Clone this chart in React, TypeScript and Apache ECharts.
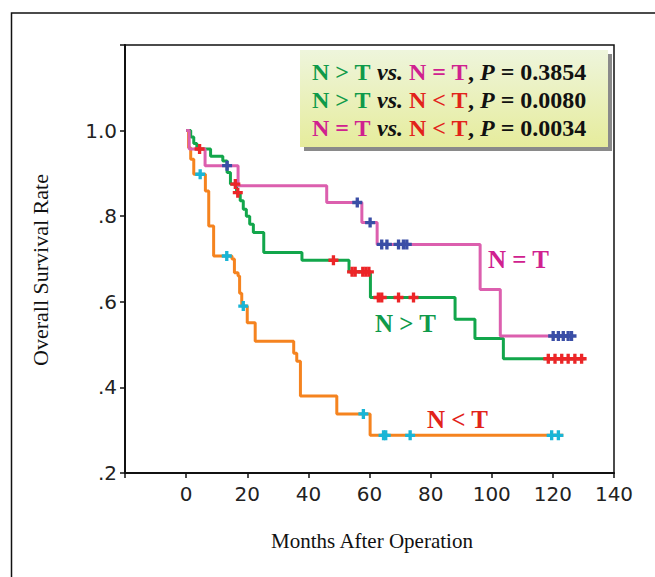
import React, { useEffect, useRef } from 'react';
import * as echarts from 'echarts';

// ---- Data ----
const xTickValues = [-20, 0, 20, 40, 60, 80, 100, 120, 140];
const yTickLabels = ['.2', '.4', '.6', '.8', '1.0'];

// N = T (pink line, blue censor marks)
const eqTimes = [0, 1, 6.2, 17, 46, 57.5, 62.5, 96.2, 102.8, 126.5];
const eqSurv = [1.0, 0.957, 0.918, 0.871, 0.832, 0.785, 0.734, 0.629, 0.52, 0.52];
const eqCensor = [13.4, 56, 60.2, 64, 65.7, 69.5, 71.1, 72.2, 120.1, 121.8, 123.4, 125, 126.1];

// N > T (green line, red censor marks)
const gtTimes = [0, 1.5, 2.5, 3.5, 8, 12, 13.4, 14.5, 16.5, 17.7, 18.7, 19.7, 20.8, 22, 25.4, 37.9, 53.3, 60.3, 88, 94.5, 103.8, 130.5];
const gtSurv = [1.0, 0.985, 0.97, 0.957, 0.94, 0.929, 0.902, 0.875, 0.855, 0.836, 0.816, 0.8, 0.781, 0.762, 0.715, 0.697, 0.67, 0.61, 0.559, 0.514, 0.467, 0.467];
const gtCensor = [4.4, 16.1, 16.9, 48.2, 54.3, 55.3, 57.8, 58.8, 59.8, 62.9, 64, 69.5, 74.4, 118.5, 120.7, 122.9, 125, 127.2, 129.4];

// N < T (orange line, cyan censor marks)
const ltTimes = [0, 0.8, 1.5, 2.5, 6.3, 7.4, 9, 15, 15.8, 17, 17.5, 18.2, 20, 22.6, 35.2, 36.2, 37.4, 49.3, 60.2, 123.4];
const ltSurv = [1.0, 0.96, 0.933, 0.898, 0.859, 0.777, 0.707, 0.7, 0.668, 0.66, 0.62, 0.59, 0.551, 0.508, 0.48, 0.461, 0.38, 0.338, 0.288, 0.288];
const ltCensor = [4.6, 13.3, 18.7, 58, 64.6, 65.3, 73.3, 119.6, 121.8];

const pValues = ['0.3854', '0.0080', '0.0034'];

// ---- helpers ----
const survAt = (times: number[], surv: number[], t: number) => {
  let v = surv[0];
  for (let i = 0; i < times.length; i++) {
    if (times[i] <= t) v = surv[i];
  }
  return v;
};
const pairs = (times: number[], surv: number[]) => times.map((t, i) => [t, surv[i]]);
const censorPts = (times: number[], surv: number[], c: number[]) => c.map((t) => [t, survAt(times, surv, t)]);

const PLUS = 'path://M3,0H6V3H9V6H6V9H3V6H0V3H3Z';

const C = {
  pinkLine: '#dc5fae',
  greenLine: '#12a64b',
  orangeLine: '#f5831f',
  blue: '#3a4ea6',
  red: '#ec2527',
  cyan: '#19b5d6',
  gText: '#0f9a4a',
  mText: '#d0218f',
  rText: '#e2231a',
};

const serif = '"Liberation Serif", "Times New Roman", serif';
const LF = 24;

export default function App() {
  const ref = useRef<HTMLDivElement>(null);
  useEffect(() => {
    document.body.style.margin = '0';
    const chart = echarts.init(ref.current!, null, { renderer: 'svg' });
    const lineSeries = (name: string, times: number[], surv: number[], color: string, z: number) => ({
      name,
      type: 'line',
      step: 'end',
      data: pairs(times, surv),
      showSymbol: false,
      symbol: 'none',
      lineStyle: { color, width: 3 },
      itemStyle: { color },
      z,
    });
    const censorSeries = (name: string, times: number[], surv: number[], c: number[], color: string) => ({
      name,
      type: 'scatter',
      data: censorPts(times, surv, c),
      symbol: PLUS,
      symbolSize: 10,
      itemStyle: { color, opacity: 1 },
      z: 10,
    });
    const rich = {
      g: { fill: C.gText, fontFamily: serif, fontWeight: 'bold', fontSize: LF },
      m: { fill: C.mText, fontFamily: serif, fontWeight: 'bold', fontSize: LF },
      r: { fill: C.rText, fontFamily: serif, fontWeight: 'bold', fontSize: LF },
      k: { fill: '#111', fontFamily: serif, fontWeight: 'bold', fontSize: LF },
      i: { fill: '#111', fontFamily: serif, fontWeight: 'bold', fontStyle: 'italic', fontSize: LF },
    };
    const legendLines = [
      `{g|N > T} {i|vs.} {m|N = T}{k|,} {i|P} {k|= ${pValues[0]}}`,
      `{g|N > T} {i|vs.} {r|N < T}{k|,} {i|P} {k|= ${pValues[1]}}`,
      `{m|N = T} {i|vs.} {r|N < T}{k|,} {i|P} {k|= ${pValues[2]}}`,
    ];
    chart.setOption({
      animation: false,
      backgroundColor: '#fff',
      grid: {
        left: 125,
        right: 41,
        top: 45,
        bottom: 104,
        show: true,
        borderColor: '#111',
        borderWidth: 1.5,
        backgroundColor: 'transparent',
      },
      xAxis: {
        type: 'value',
        min: xTickValues[0],
        max: xTickValues[xTickValues.length - 1],
        interval: 20,
        axisLine: { show: true, onZero: false, lineStyle: { color: '#111', width: 2 } },
        axisTick: { show: true, length: 5, lineStyle: { color: '#111', width: 1.5 } },
        splitLine: { show: false },
        axisLabel: {
          margin: 11,
          fontFamily: '"DejaVu Sans", sans-serif',
          fontSize: 20,
          color: '#222',
          formatter: (v: number) => (v < 0 ? '' : String(Math.round(v))),
        },
      },
      yAxis: {
        type: 'value',
        min: 0.2,
        max: 1.2,
        interval: 0.2,
        axisLine: { show: true, onZero: false, lineStyle: { color: '#111', width: 2 } },
        axisTick: { show: true, length: 5, lineStyle: { color: '#111', width: 1.5 } },
        splitLine: { show: false },
        axisLabel: {
          margin: 8,
          fontFamily: '"DejaVu Sans", sans-serif',
          fontSize: 20,
          color: '#222',
          formatter: (v: number) => {
            const idx = Math.round(v / 0.2) - 1;
            return yTickLabels[idx] ?? '';
          },
        },
      },
      series: [
        lineSeries('N < T', ltTimes, ltSurv, C.orangeLine, 2),
        lineSeries('N > T', gtTimes, gtSurv, C.greenLine, 3),
        lineSeries('N = T', eqTimes, eqSurv, C.pinkLine, 4),
        censorSeries('N < T censored', ltTimes, ltSurv, ltCensor, C.cyan),
        censorSeries('N > T censored', gtTimes, gtSurv, gtCensor, C.red),
        censorSeries('N = T censored', eqTimes, eqSurv, eqCensor, C.blue),
      ],
      graphic: [
        {
          type: 'rect',
          shape: { x: 11.5, y: 13, width: 900, height: 900 },
          style: { fill: 'none', stroke: '#111', lineWidth: 1.5 },
          z: 0,
          silent: true,
        },
        {
          type: 'rect',
          shape: { x: 304, y: 54, width: 308, height: 97 },
          style: { fill: '#8a8a8a' },
          z: 20,
        },
        {
          type: 'rect',
          shape: { x: 300, y: 50, width: 308, height: 97 },
          style: {
            fill: new echarts.graphic.LinearGradient(0, 0, 0, 1, [
              { offset: 0, color: '#eef5dc' },
              { offset: 1, color: '#e6ec9c' },
            ]),
          },
          z: 21,
        },
        ...legendLines.map((t, i) => ({
          type: 'text',
          x: 312,
          y: 72 + i * 28,
          z: 22,
          style: {
            text: t,
            rich,
            fontFamily: serif,
            fontWeight: 'bold',
            fontSize: LF,
            fill: '#111',
            align: 'left',
            verticalAlign: 'middle',
          },
        })),
        {
          type: 'text',
          x: 40,
          y: 270,
          rotation: Math.PI / 2,
          style: {
            text: 'Overall Survival Rate',
            fontFamily: serif,
            fontSize: 22,
            fill: '#111',
            align: 'center',
            verticalAlign: 'middle',
          },
        },
        {
          type: 'text',
          x: 372,
          y: 541,
          style: {
            text: 'Months After Operation',
            fontFamily: serif,
            fontSize: 21,
            fill: '#111',
            align: 'center',
            verticalAlign: 'middle',
          },
        },
        {
          type: 'text',
          x: 488,
          y: 259,
          z: 15,
          style: { text: 'N = T', fontFamily: serif, fontWeight: 'bold', fontSize: 25, fill: C.mText, align: 'left', verticalAlign: 'middle' },
        },
        {
          type: 'text',
          x: 375,
          y: 323,
          z: 15,
          style: { text: 'N > T', fontFamily: serif, fontWeight: 'bold', fontSize: 25, fill: C.gText, align: 'left', verticalAlign: 'middle' },
        },
        {
          type: 'text',
          x: 427,
          y: 419,
          z: 15,
          style: { text: 'N < T', fontFamily: serif, fontWeight: 'bold', fontSize: 25, fill: C.rText, align: 'left', verticalAlign: 'middle' },
        },
      ],
    });
    return () => chart.dispose();
  }, []);
  return <div ref={ref} style={{ width: 655, height: 577, background: '#fff' }} />;
}
